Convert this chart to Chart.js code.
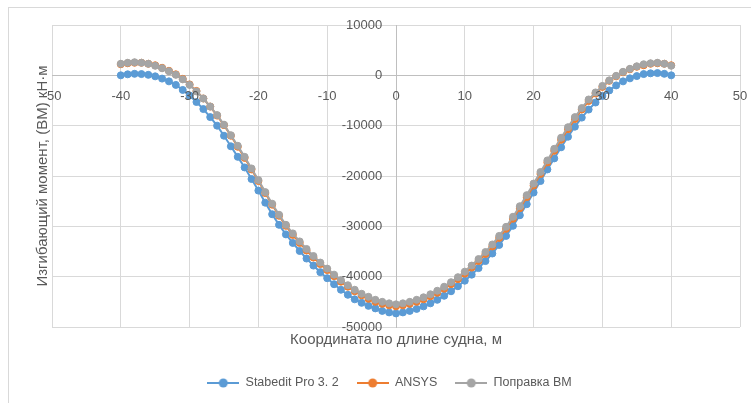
<!DOCTYPE html>
<html>
<head>
<meta charset="utf-8">
<script src="https://cdn.jsdelivr.net/npm/chart.js@4.4.0/dist/chart.umd.min.js"></script>
<style>
    body { margin: 0; background: #fff; }
    canvas { display: block; }
</style>
</head>
<body>
<canvas id="bmChart" width="751" height="403"></canvas>
<script>
// Координаты по длине судна, м
const xs = [];
for (let i = -40; i <= 40; i++) xs.push(i);

// Stabedit Pro 3. 2, кН·м
const stabedit = [
    0, 200, 300, 250, 100, -200, -650, -1200, -1900, -2900,
    -4000, -5300, -6700, -8300, -10000, -12000, -14100, -16200, -18300, -20600,
    -22900, -25300, -27600, -29700, -31600, -33300, -34900, -36400, -37800, -39100,
    -40300, -41500, -42600, -43600, -44500, -45200, -45800, -46300, -46800, -47100,
    -47300,
    -47100, -46800, -46400, -45900, -45300, -44600, -43800, -42900, -41900, -40800,
    -39600, -38300, -36900, -35400, -33700, -31900, -29900, -27800, -25600, -23300,
    -21000, -18700, -16500, -14300, -12200, -10200, -8400, -6800, -5400, -4100,
    -3000, -2000, -1200, -600, -150, 250, 400, 450, 300, 0
];

// ANSYS
const ansys = [
    2200, 2400, 2500, 2500, 2300, 2000, 1500, 900, 200, -700,
    -1800, -3100, -4600, -6200, -8000, -9900, -12000, -14200, -16400, -18700,
    -21000, -23400, -25700, -27900, -29900, -31700, -33300, -34800, -36200, -37500,
    -38700, -39900, -41000, -42000, -42900, -43700, -44400, -45000, -45400, -45700,
    -45900,
    -45700, -45400, -45000, -44500, -43900, -43200, -42400, -41500, -40500, -39400,
    -38200, -36900, -35500, -34000, -32300, -30500, -28500, -26400, -24200, -21900,
    -19600, -17300, -15000, -12800, -10700, -8700, -6800, -5100, -3600, -2300,
    -1100, -200, 600, 1200, 1700, 2000, 2300, 2400, 2300, 2000
];

// Поправка ВМ
const popravka = [
    2300, 2500, 2600, 2500, 2300, 1900, 1400, 800, 100, -800,
    -1900, -3200, -4600, -6200, -7900, -9800, -11900, -14000, -16200, -18500,
    -20800, -23200, -25500, -27700, -29700, -31400, -33000, -34500, -35900, -37200,
    -38400, -39600, -40700, -41700, -42600, -43400, -44000, -44600, -45000, -45300,
    -45500,
    -45300, -45000, -44600, -44100, -43500, -42800, -42000, -41100, -40100, -39000,
    -37800, -36500, -35100, -33600, -31900, -30100, -28100, -26000, -23800, -21500,
    -19200, -16900, -14600, -12400, -10300, -8300, -6500, -4800, -3400, -2100,
    -1000, -100, 700, 1300, 1800, 2200, 2400, 2500, 2300, 1900
];

const seriesNames = ['Stabedit Pro 3. 2', 'ANSYS', 'Поправка ВМ'];
const seriesColors = ['#5b9bd5', '#ed7d31', '#a5a5a5'];
const textColor = '#595959';
const fontFamily = '"Liberation Sans", Arial, sans-serif';
const tickFont = { family: fontFamily, size: 13 };

function toPoints(ys) {
    return xs.map((x, i) => ({ x: x, y: ys[i] }));
}

// line + circle marker for legend, like Excel
function legendMark(color) {
    const c = document.createElement('canvas');
    c.width = 32;
    c.height = 10;
    const g = c.getContext('2d');
    g.strokeStyle = color;
    g.lineWidth = 2;
    g.beginPath();
    g.moveTo(0, 5);
    g.lineTo(32, 5);
    g.stroke();
    g.fillStyle = color;
    g.beginPath();
    g.arc(16, 5, 4.5, 0, Math.PI * 2);
    g.fill();
    return c;
}
const legendMarks = seriesColors.map(legendMark);

const frame = {
    id: 'frame',
    beforeDraw(chart) {
        const ctx = chart.ctx;
        ctx.save();
        ctx.fillStyle = '#fff';
        ctx.fillRect(0, 0, chart.width, chart.height);
        ctx.strokeStyle = '#d9d9d9';
        ctx.lineWidth = 1;
        ctx.strokeRect(8.5, 7.5, 800, 500);
        ctx.restore();
    }
};

function makeDataset(i, ys, order) {
    return {
        label: seriesNames[i],
        data: toPoints(ys),
        borderColor: seriesColors[i],
        backgroundColor: seriesColors[i],
        pointBackgroundColor: seriesColors[i],
        pointBorderColor: seriesColors[i],
        borderWidth: 2,
        pointRadius: 3.5,
        pointBorderWidth: 1,
        showLine: true,
        tension: 0,
        order: order
    };
}

const ctx = document.getElementById('bmChart').getContext('2d');
const bmChart = new Chart(ctx, {
    type: 'scatter',
    data: {
        datasets: [
            makeDataset(0, stabedit, 3),
            makeDataset(1, ansys, 2),
            makeDataset(2, popravka, 1)
        ]
    },
    options: {
        responsive: false,
        animation: false,
        layout: {
            padding: { left: 39, right: 11, top: 25, bottom: 3.75 }
        },
        scales: {
            // grid + axis lines (behind the series)
            x: {
                type: 'linear',
                min: -50,
                max: 50,
                position: { y: 0 },
                border: { color: '#bfbfbf' },
                grid: { color: '#d9d9d9', drawTicks: false },
                ticks: { stepSize: 10, autoSkip: false, display: false }
            },
            y: {
                type: 'linear',
                min: -50000,
                max: 10000,
                position: { x: 0 },
                border: { color: '#bfbfbf' },
                grid: { color: '#d9d9d9', drawTicks: false },
                ticks: { stepSize: 10000, autoSkip: false, display: false }
            },
            // tick labels, drawn over the series like in Excel
            xLabels: {
                type: 'linear',
                axis: 'x',
                min: -50,
                max: 50,
                position: { y: 0 },
                border: { display: false },
                grid: { display: false, drawTicks: true, tickLength: 10 },
                ticks: {
                    z: 1,
                    stepSize: 10,
                    autoSkip: false,
                    maxRotation: 0,
                    padding: 3,
                    color: textColor,
                    font: tickFont,
                    callback: v => String(v)
                }
            },
            yLabels: {
                type: 'linear',
                axis: 'y',
                min: -50000,
                max: 10000,
                position: { x: -2 },
                border: { display: false },
                grid: { display: false, drawTicks: false },
                ticks: {
                    z: 1,
                    stepSize: 10000,
                    autoSkip: false,
                    padding: 0,
                    color: textColor,
                    font: tickFont,
                    callback: v => String(v)
                }
            }
        },
        plugins: {
            tooltip: { enabled: false },
            legend: {
                position: 'bottom',
                labels: {
                    usePointStyle: true,
                    pointStyleWidth: 32,
                    padding: 18,
                    color: textColor,
                    font: { family: fontFamily, size: 12.5 },
                    generateLabels(chart) {
                        const items = Chart.defaults.plugins.legend.labels.generateLabels(chart);
                        items.sort((a, b) => a.datasetIndex - b.datasetIndex);
                        items.forEach(item => {
                            item.pointStyle = legendMarks[item.datasetIndex];
                        });
                        return items;
                    }
                }
            },
            title: {
                display: true,
                position: 'bottom',
                weight: 500,
                fullSize: false,
                text: 'Координата по длине судна, м',
                color: textColor,
                font: { family: fontFamily, size: 15, weight: 'normal', lineHeight: 1.2 },
                padding: { top: 4, bottom: 9.75 }
            },
            subtitle: {
                display: true,
                position: 'left',
                fullSize: false,
                text: 'Изгибающий момент, (ВМ) кН·м',
                color: textColor,
                font: { family: fontFamily, size: 15, weight: 'normal', lineHeight: 0.5 },
                padding: { top: 0, bottom: 5.5 }
            }
        }
    },
    plugins: [frame]
});
</script>
</body>
</html>
